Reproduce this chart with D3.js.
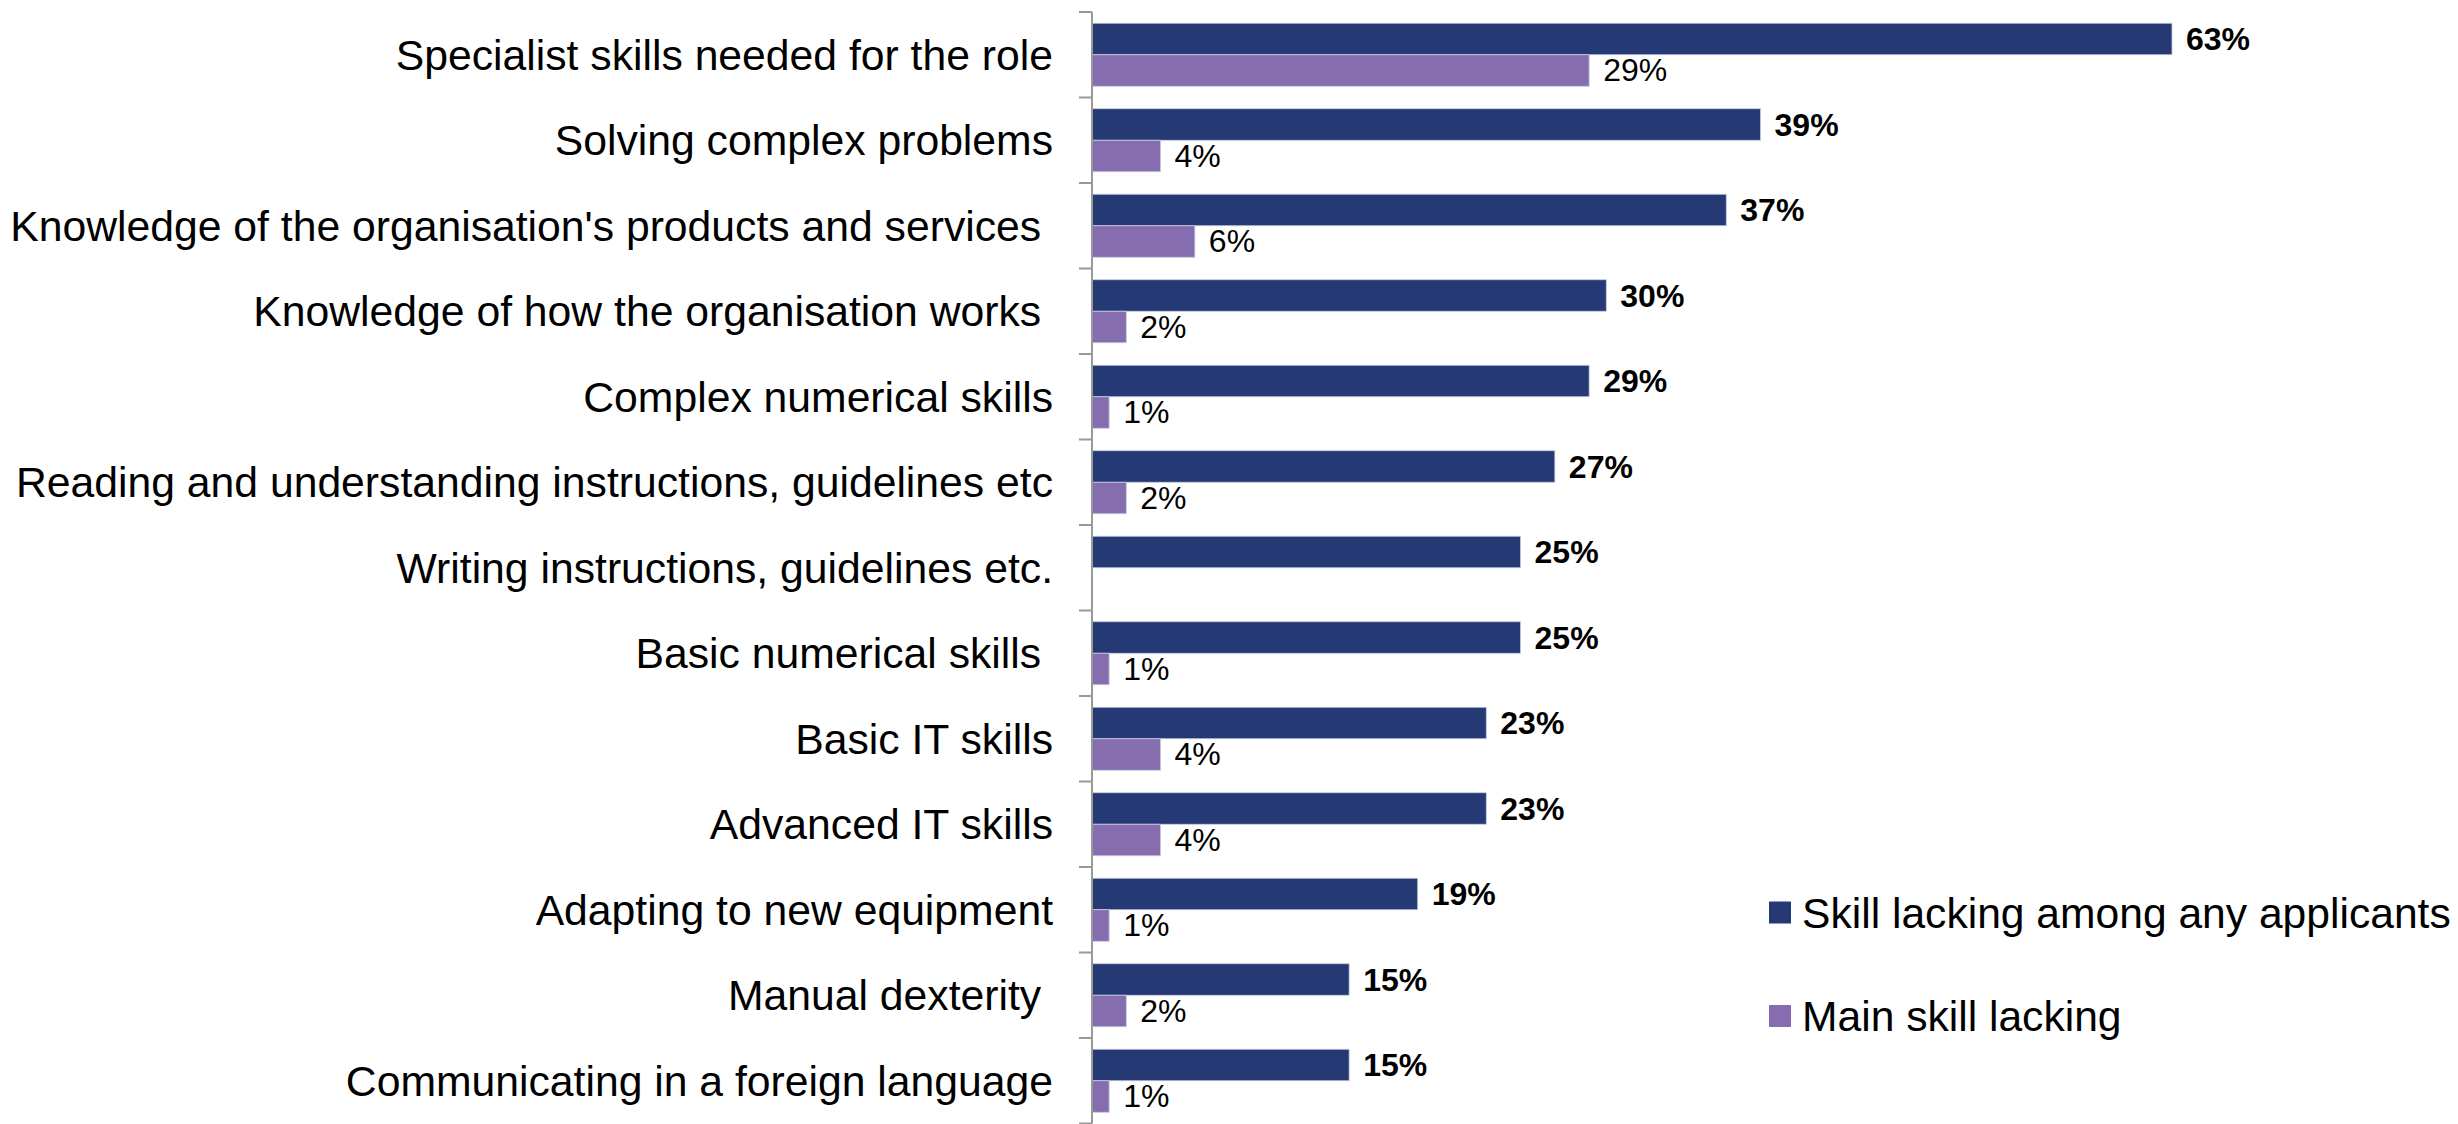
<!DOCTYPE html>
<html>
<head>
<meta charset="utf-8">
<script src="https://cdn.jsdelivr.net/npm/d3@7"></script>
<style>
    body { margin: 0; background: #fff; }
    text { font-family: "Liberation Sans", Arial, sans-serif; white-space: pre; }
</style>
</head>
<body>
<div id="my_dataviz"></div>
<script>
// Categories (trailing spaces kept as in the original labels)
const categories = [
    "Specialist skills needed for the role",
    "Solving complex problems",
    "Knowledge of the organisation's products and services ",
    "Knowledge of how the organisation works ",
    "Complex numerical skills",
    "Reading and understanding instructions, guidelines etc",
    "Writing instructions, guidelines etc.",
    "Basic numerical skills ",
    "Basic IT skills",
    "Advanced IT skills",
    "Adapting to new equipment",
    "Manual dexterity ",
    "Communicating in a foreign language"
];
const seriesNames = ["Skill lacking among any applicants", "Main skill lacking"];
const anyLacking = [63, 39, 37, 30, 29, 27, 25, 25, 23, 23, 19, 15, 15];
const mainLacking = [29, 4, 6, 2, 1, 2, null, 1, 4, 4, 1, 2, 1];
const colors = ["#253a74", "#856daf"];

(function() {
    const margin = { top: 12, right: 166, bottom: 0, left: 1092 },
        width = 2458 - margin.left - margin.right,
        height = 1111.5;

    const svg = d3.select("#my_dataviz")
        .append("svg")
        .attr("width", 2458)
        .attr("height", 1124)
        .append("g")
        .attr("transform", `translate(${margin.left},${margin.top})`);

    // Scales
    const x = d3.scaleLinear()
        .domain([0, 70])
        .range([0, 1200]);
    const y0 = d3.scaleBand()
        .domain(categories)
        .range([0, height])
        .paddingInner(0.263)
        .paddingOuter(0.1315);
    const y1 = d3.scaleBand()
        .domain(seriesNames)
        .range([0, y0.bandwidth()]);

    const data = categories.map((c, i) => ({ cat: c, values: [anyLacking[i], mainLacking[i]] }));

    // Bars
    const groups = svg.selectAll(".cat")
        .data(data)
        .enter().append("g")
        .attr("transform", d => `translate(0,${y0(d.cat)})`);

    groups.selectAll("rect")
        .data(d => d.values.map((v, j) => ({ v, j })).filter(e => e.v != null))
        .enter().append("rect")
        .attr("x", 0)
        .attr("y", e => y1(seriesNames[e.j]))
        .attr("width", e => x(e.v))
        .attr("height", y1.bandwidth())
        .attr("fill", e => colors[e.j])
        .attr("stroke", "#c8cce0")
        .attr("stroke-width", 0.8);

    // Value labels
    groups.selectAll(".val")
        .data(d => d.values.map((v, j) => ({ v, j })).filter(e => e.v != null))
        .enter().append("text")
        .attr("x", e => x(e.v) + 14)
        .attr("y", e => y1(seriesNames[e.j]) + y1.bandwidth() / 2)
        .attr("dominant-baseline", "central")
        .style("font-size", "32px")
        .style("font-weight", e => e.j === 0 ? "bold" : "normal")
        .attr("fill", "#000")
        .text(e => e.v + "%");

    // Category axis: line with ticks between categories
    svg.append("line")
        .attr("x1", 0).attr("x2", 0)
        .attr("y1", 0).attr("y2", height)
        .attr("stroke", "#999")
        .attr("stroke-width", 2);

    const boundaries = categories.map(c => y0(c) - y0.paddingOuter() * y0.step()).concat([height]);
    svg.selectAll(".tick")
        .data(boundaries)
        .enter().append("line")
        .attr("x1", -13).attr("x2", 0)
        .attr("y1", d => d).attr("y2", d => d)
        .attr("stroke", "#999")
        .attr("stroke-width", 2);

    svg.selectAll(".catlabel")
        .data(categories)
        .enter().append("text")
        .attr("x", -39)
        .attr("y", d => y0(d) + y0.bandwidth() / 2)
        .attr("dominant-baseline", "central")
        .style("text-anchor", "end")
        .style("font-size", "42.7px")
        .attr("fill", "#000")
        .text(d => d);

    // Legend
    const legend = svg.selectAll(".legend")
        .data(seriesNames)
        .enter().append("g")
        .attr("class", "legend")
        .attr("transform", (d, i) => `translate(677,${912.5 + i * 103.5 - margin.top})`);

    legend.append("rect")
        .attr("x", 0)
        .attr("y", -11)
        .attr("width", 22)
        .attr("height", 22)
        .style("fill", (d, i) => colors[i]);

    legend.append("text")
        .attr("x", 33)
        .attr("y", 0)
        .attr("dominant-baseline", "central")
        .style("font-size", "42.6px")
        .attr("fill", "#000")
        .text(d => d);
})();
</script>
</body>
</html>
